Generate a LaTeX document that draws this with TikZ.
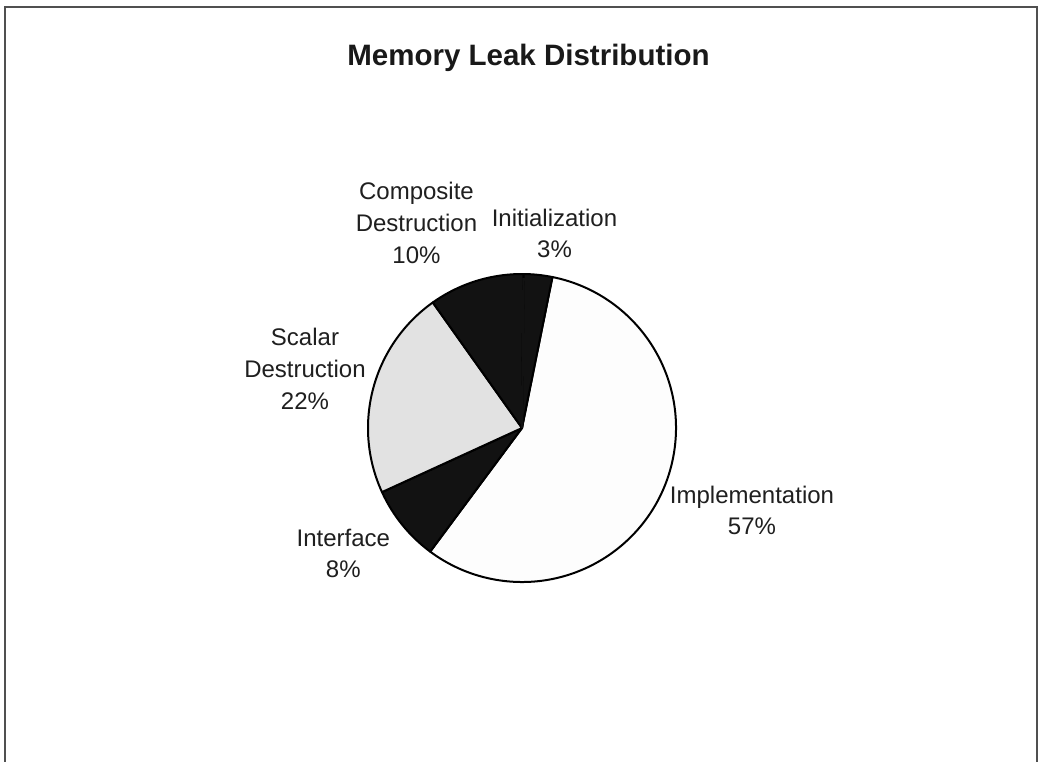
\documentclass[tikz,border=0pt]{standalone}
\usepackage{fontspec}
\setmainfont{Liberation Sans}
\definecolor{sliceblack}{HTML}{121212}
\definecolor{slicegray}{HTML}{E2E2E2}
\definecolor{slicewhite}{HTML}{FDFDFD}
\definecolor{framegray}{HTML}{505050}
\tikzset{
  frameline/.style={draw=framegray, line width=1.5pt},
  slice/.style={draw=black, line width=2pt, line join=round},
  lbl/.style={anchor=base, inner sep=0pt, font=\fontsize{24}{29}\selectfont, text=black!88},
  ttl/.style={anchor=base, inner sep=0pt, font=\fontsize{29.5}{34}\selectfont\bfseries, text=black!90}
}
\newcommand{\pieslice}[3]{%
  \filldraw[slice, fill=#3] (pc) -- ++(#1:154) arc[start angle=#1, end angle=#2, radius=154] -- cycle;}
\begin{document}
\begin{tikzpicture}[x=1pt, y=-1pt]
  \useasboundingbox (0,0) rectangle (1039,762);
  \fill[white] (0,0) rectangle (1039,762);
  % open frame round the chart area
  \draw[frameline] (5,775) -- (5,7) -- (1037,7) -- (1037,775);

  % title
  \node[ttl] (title) at (528.5,66) {Memory Leak Distribution};

  % pie, angles measured clockwise from east
  \coordinate (pc) at (522,428);
  \pieslice{-78.6}{126.6}{slicewhite}   % Implementation 57%
  \pieslice{126.6}{155.4}{sliceblack}   % Interface 8%
  \pieslice{155.4}{234.6}{slicegray}    % Scalar Destruction 22%
  \pieslice{234.6}{270.6}{sliceblack}   % Composite Destruction 10%
  \pieslice{270.6}{281.4}{sliceblack}   % Initialization 3%
  % the edge shared by the two dark slices vanishes into the fill
  \draw[sliceblack, line width=2.4pt] (pc) -- ++(270.6:150);

  % slice labels
  \node[lbl] (compA) at (416.5,200) {Composite};
  \node[lbl] (compB) at (416.5,232) {Destruction};
  \node[lbl] (compC) at (416.5,264) {10\%};

  \node[lbl] (initA) at (554.5,226.5) {Initialization};
  \node[lbl] (initB) at (554.5,258) {3\%};

  \node[lbl] (scalA) at (305,345) {Scalar};
  \node[lbl] (scalB) at (305,377) {Destruction};
  \node[lbl] (scalC) at (305,409) {22\%};

  \node[lbl] (implA) at (752,503.5) {Implementation};
  \node[lbl] (implB) at (752,534.5) {57\%};

  \node[lbl] (intfA) at (343.3,546) {Interface};
  \node[lbl] (intfB) at (343.3,577) {8\%};
\end{tikzpicture}
\end{document}
